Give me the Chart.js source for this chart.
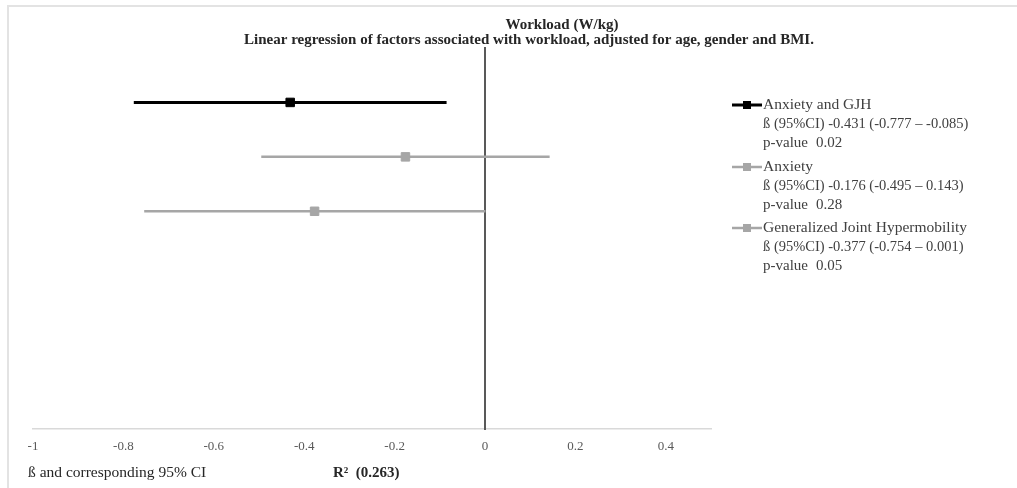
<!DOCTYPE html>
<html>
<head>
<meta charset="utf-8">
<script src="https://cdn.jsdelivr.net/npm/chart.js@4/dist/chart.umd.min.js"></script>
<style>
  html, body { margin: 0; padding: 0; background: #fff; }
  #wrap { position: relative; width: 1017px; height: 488px; overflow: hidden; }
  #frame { position: absolute; left: 7px; top: 5px; right: -10px; bottom: -10px;
           border-top: 2px solid #e3e3e3; border-left: 2px solid #e3e3e3; pointer-events: none; }
  canvas { position: absolute; left: 0; top: 0; }
</style>
</head>
<body>
<div id="wrap">
  <canvas id="c" width="1017" height="488"></canvas>
  <div id="frame"></div>
</div>
<script>
// ---- data ----
const seriesNames = ["Anxiety and GJH", "Anxiety", "Generalized Joint Hypermobility"];
const estimates   = [-0.431, -0.176, -0.377];
const lowerCI     = [-0.777, -0.495, -0.754];
const upperCI     = [-0.085,  0.143,  0.001];
const pValues     = ["0.02", "0.28", "0.05"];
const rowPositions = [6, 5, 4];
const xTickValues = [-1, -0.8, -0.6, -0.4, -0.2, 0, 0.2, 0.4];
const xTickLabels = ["-1", "-0.8", "-0.6", "-0.4", "-0.2", "0", "0.2", "0.4"];
const titleText = "Workload (W/kg)";
const subtitleText = "Linear regression of factors associated with workload, adjusted for age, gender and BMI.";
const xAxisNote = "ß and corresponding 95% CI";
const r2Text = "R²  (0.263)";

const seriesColors = ["#000000", "#a6a6a6", "#a6a6a6"];
const seriesWidths = [3, 2.5, 2.5];

const FONT = "'Liberation Serif', 'Times New Roman', serif";

const datasets = seriesNames.map((name, i) => ({
  label: name,
  data: [
    { x: lowerCI[i], y: rowPositions[i] },
    { x: estimates[i], y: rowPositions[i] },
    { x: upperCI[i], y: rowPositions[i] }
  ],
  showLine: true,
  borderColor: seriesColors[i],
  backgroundColor: seriesColors[i],
  borderWidth: seriesWidths[i],
  pointStyle: 'rect',
  pointRadius: [0, 6, 0],
  pointBorderWidth: 1,
  pointHoverRadius: [0, 6, 0]
}));

const textPlugin = {
  id: 'texts',
  afterDraw(chart) {
    const ctx = chart.ctx;
    ctx.save();
    ctx.textBaseline = 'middle';
    // titles
    ctx.fillStyle = '#262626';
    ctx.textAlign = 'center';
    ctx.font = "bold 15px " + FONT;
    ctx.fillText(titleText, 562, 25);
    ctx.fillText(subtitleText, 529, 40);
    // bottom notes
    ctx.textAlign = 'left';
    ctx.font = "15.5px " + FONT;
    ctx.fillStyle = '#262626';
    ctx.fillText(xAxisNote, 28, 473);
    ctx.font = "bold 15px " + FONT;
    ctx.fillText(r2Text, 333, 473);
    // legend
    const legendTop = [105, 167, 228];
    chart.data.datasets.forEach((ds, i) => {
      const y = legendTop[i];
      ctx.strokeStyle = ds.borderColor;
      ctx.lineWidth = ds.borderWidth;
      ctx.beginPath();
      ctx.moveTo(732, y);
      ctx.lineTo(762, y);
      ctx.stroke();
      ctx.fillStyle = ds.backgroundColor;
      ctx.fillRect(743, y - 4, 8, 8);
      ctx.fillStyle = '#404040';
      ctx.font = "15.5px " + FONT;
      ctx.fillText(ds.label, 763, y);
      ctx.font = "14.5px " + FONT;
      const ci = "ß (95%CI) " + estimates[i].toFixed(3) + " (" + lowerCI[i].toFixed(3) + " – " + upperCI[i].toFixed(3) + ")";
      ctx.fillText(ci, 763, y + 19);
      ctx.font = "15px " + FONT;
      ctx.fillText("p-value", 763, y + 38);
      ctx.fillText(pValues[i], 816, y + 38);
    });
    ctx.restore();
  }
};

new Chart(document.getElementById('c'), {
  type: 'scatter',
  data: { datasets },
  options: {
    responsive: false,
    animation: false,
    layout: { padding: { left: 33, right: 306, top: 48, bottom: 0 } },
    plugins: { legend: { display: false }, tooltip: { enabled: false }, title: { display: false } },
    scales: {
      x: {
        type: 'linear',
        min: -1,
        max: 0.5,
        position: 'bottom',
        grid: { display: false, drawTicks: false, tickLength: 0 },
        border: { display: true, color: '#d9d9d9', width: 1.5 },
        afterBuildTicks: (scale) => { scale.ticks = xTickValues.map(v => ({ value: v })); },
        afterFit: (scale) => { scale.height = 59; },
        ticks: {
          color: '#595959',
          font: { family: FONT, size: 13 },
          padding: 10,
          maxRotation: 0,
          autoSkip: false,
          callback: (v, i) => xTickLabels[i]
        }
      },
      y: {
        type: 'linear',
        min: 0,
        max: 7,
        position: { x: 0 },
        grid: { display: false, drawTicks: false },
        border: { display: true, color: '#595959', width: 2 },
        ticks: { display: false }
      }
    }
  },
  plugins: [textPlugin]
});
</script>
</body>
</html>
